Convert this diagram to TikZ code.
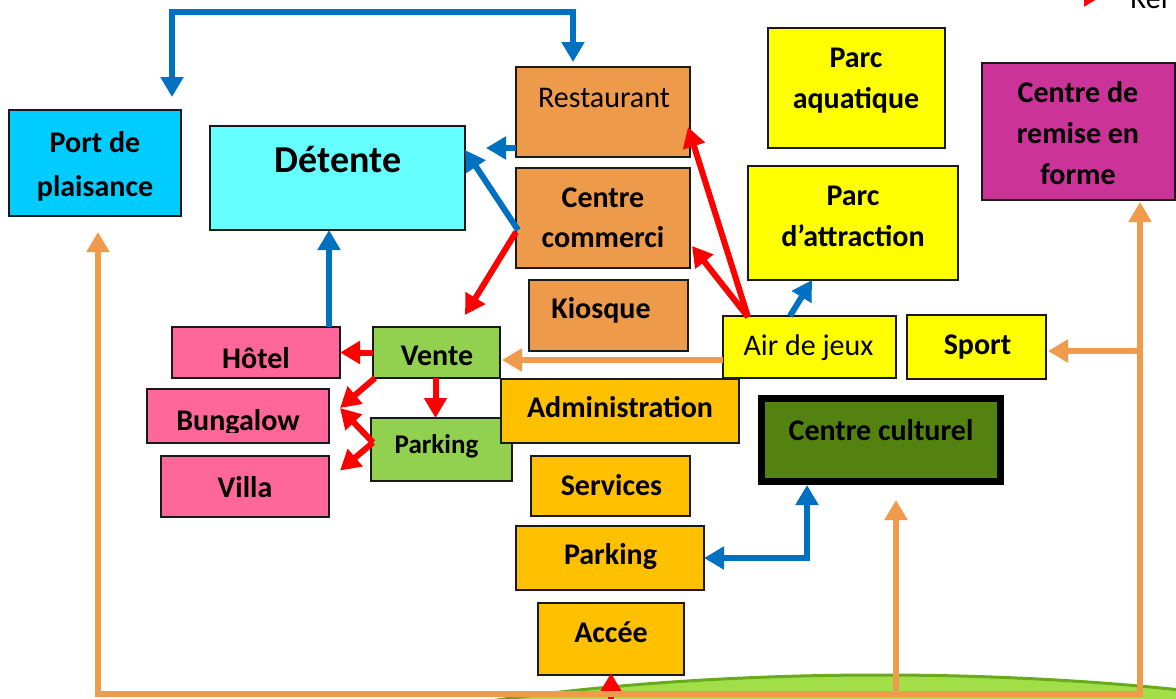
\documentclass[tikz,border=0pt]{standalone}
\usepackage{fontspec}
\setmainfont{Carlito}
\usetikzlibrary{arrows.meta,calc}
\definecolor{cport}{HTML}{00CCFF}
\definecolor{cdet}{HTML}{66FFFF}
\definecolor{corg}{HTML}{EE9A4B}
\definecolor{cyel}{HTML}{FFFF00}
\definecolor{cmag}{HTML}{CC3399}
\definecolor{cpink}{HTML}{FF6699}
\definecolor{clgreen}{HTML}{92D050}
\definecolor{camber}{HTML}{FFC000}
\definecolor{cdgreen}{HTML}{548211}
\definecolor{cblue}{HTML}{0070C0}
\definecolor{cred}{HTML}{FF0000}
\definecolor{carr}{HTML}{F09A4C}
\definecolor{chill}{HTML}{A2DE48}
\definecolor{chillrim}{HTML}{68AA1E}
\begin{document}
\begin{tikzpicture}[x=1pt,y=-1pt,
  box/.style={draw=black!90, line width=1.5pt, inner sep=0pt, outer sep=0pt},
  lbl/.style={anchor=base, inner sep=0pt, font=\fontsize{30}{36}\selectfont\bfseries},
  lblr/.style={anchor=base, inner sep=0pt, font=\fontsize{30}{36}\selectfont},
  >={Triangle[width=22pt,length=20pt]},
  bluearr/.style={draw=cblue, line width=6pt},
  redarr/.style={draw=cred, line width=6pt},
  orarr/.style={draw=carr, line width=6pt}]
\clip (0,0) rectangle (1176,699);
\fill[white] (0,0) rectangle (1176,699);
% hill
\filldraw[fill=chill, draw=chillrim, line width=3pt] (880,880) ellipse [x radius=800, y radius=205];

% boxes
\node[box,fill=cport,minimum width=172,minimum height=106] (port) at (95,163) {};
\node[lbl] (portT1) at (95,152) {Port de};
\node[lbl] (portT2) at (95,196) {plaisance};

\node[box,fill=cdet,minimum width=255,minimum height=104] (detente) at (337.5,178) {};
\node[lbl,font=\fontsize{38}{44}\selectfont\bfseries] (detT) at (338,172) {Détente};

\node[box,fill=corg,minimum width=174,minimum height=90] (rest) at (603,112) {};
\node[lblr] (restT) at (604,107) {Restaurant};

\node[box,fill=corg,minimum width=174,minimum height=100] (cc) at (603,218) {};
\node[lbl] (ccT1) at (603,207) {Centre};
\node[lbl] (ccT2) at (603,247) {commerci};

\node[box,fill=corg,minimum width=159,minimum height=71] (kiosk) at (608.5,315.5) {};
\node[lbl] (kioskT) at (601,318) {Kiosque};

\node[box,fill=cyel,minimum width=177,minimum height=120] (aqua) at (856.5,88) {};
\node[lbl] (aquaT1) at (856,67) {Parc};
\node[lbl] (aquaT2) at (856,108) {aquatique};

\node[box,fill=cmag,minimum width=193,minimum height=137] (forme) at (1078.5,131.5) {};
\node[lbl] (formeT1) at (1078,102) {Centre de};
\node[lbl] (formeT2) at (1078,143) {remise en};
\node[lbl] (formeT3) at (1078,184) {forme};

\node[box,fill=cyel,minimum width=210,minimum height=114] (attr) at (853,223) {};
\node[lbl] (attrT1) at (853,205) {Parc};
\node[lbl] (attrT2) at (853,246) {d’attraction};

\node[box,fill=cyel,minimum width=173,minimum height=62] (air) at (809.5,347) {};
\node[lblr] (airT) at (808.5,355) {Air de jeux};

\node[box,fill=cyel,minimum width=139,minimum height=64] (sport) at (976.5,347) {};
\node[lbl] (sportT) at (977.5,354) {Sport};

\node[box,fill=cpink,minimum width=168,minimum height=51] (hotel) at (256,352.5) {};
\node[lbl] (hotelT) at (256,368) {Hôtel};

\node[box,fill=cpink,minimum width=182,minimum height=54] (bung) at (238,416) {};
\begin{scope}
\clip (147,389) rectangle (329,432);
\node[lbl] (bungT) at (238,430) {Bungalow};
\end{scope}

\node[box,fill=cpink,minimum width=168,minimum height=61] (villa) at (245,486.5) {};
\node[lbl] (villaT) at (245,497) {Villa};

\node[box,fill=clgreen,minimum width=141,minimum height=63] (parkg) at (441.5,449.5) {};
\node[lbl,font=\fontsize{27}{32}\selectfont\bfseries] (parkgT) at (436.5,453) {Parking};

\node[box,fill=clgreen,minimum width=127,minimum height=51] (vente) at (436.5,352.5) {};
\node[lbl] (venteT) at (437,365) {Vente};

\node[box,fill=camber,minimum width=238,minimum height=64] (admin) at (620,411) {};
\node[lbl] (adminT) at (620,417) {Administration};

\node[box,fill=camber,minimum width=159,minimum height=60] (serv) at (610.5,486) {};
\node[lbl] (servT) at (611.5,495) {Services};

\node[box,fill=camber,minimum width=188,minimum height=64] (parko) at (610,558) {};
\node[lbl] (parkoT) at (610.5,564) {Parking};

\node[box,fill=camber,minimum width=146,minimum height=72] (acc) at (611,639) {};
\node[lbl] (accT) at (611,642) {Accée};

\node[draw=black,line width=7pt,fill=cdgreen,inner sep=0pt,outer sep=3.5pt,minimum width=239,minimum height=83] (cult) at (881,440) {};
\node[lbl] (cultT) at (881,440) {Centre culturel};

% legend (cropped)
\coordinate (lg1) at (1040,-5);
\coordinate (lg2) at (1104,-5);
\draw[redarr,->] (lg1) -- (lg2);
\node[lblr,anchor=base west] (legT) at (1130,8) {Rel};

% blue connectors
\draw[bluearr,<->] ($(port.north east)+(-9,-13)$) -- ++(0,-85) -| ($(rest.north)+(-30,-5)$);
\draw[bluearr,->] ($(rest.south west)+(0,-9)$) -- ($(rest.south west)+(-30,-9)$);
\draw[bluearr,->] ($(cc.west)+(2,12)$) -- ($(detente.north east)+(0,24)$);
\draw[bluearr,->] ($(hotel.north east)+(-11,0)$) coordinate (hb) -- (hb |- detente.south);
\draw[bluearr,->] ($(air.north west)+(67,0)$) -- ($(attr.south west)+(64,0)$);
\draw[bluearr,<->] (parko.east) -| ($(cult.south west)+(49,0)$);

% red connectors
\coordinate (airR) at ($(air.north west)+(25,1)$);
\draw[redarr,->] (airR) -- ($(rest.east)+(-2,15)$);
\draw[redarr,->] (airR) -- ($(cc.east)+(2,28)$);
\draw[redarr,->] ($(cc.west)+(0,14)$) -- ($(vente.north west)+(92,-12)$);
\draw[redarr,->] (vente.west) -- (hotel.east);
\draw[redarr,->] ($(vente.south west)+(2,0)$) -- ($(bung.east)+(11,-8)$);
\draw[redarr,->] ($(vente.south)+(-1,0)$) coordinate (vs) -- (vs |- parkg.north);
\coordinate (pgw) at ($(parkg.west)+(2,-7)$);
\draw[redarr,->] (pgw) -- ($(bung.east)+(11,-8)$);
\draw[redarr,->] (pgw) -- ($(villa.east)+(11,-16)$);
\draw[redarr,->] ($(acc.south)+(0,30)$) -- ($(acc.south)+(0,-2)$);

% orange connectors
\draw[orarr,->] ($(air.west)+(0,13)$) coordinate (aw) -- ($(aw -| vente.east)+(2,0)$);
\coordinate (bl) at ($(port.south)+(3,478)$);
\coordinate (br) at ($(forme.south)+(61.5,494)$);
\draw[orarr,<->] ($(port.south)+(3,16)$) -- (bl) -- (br) -- ($(forme.south)+(61.5,2)$);
\draw[orarr,->] ($(cult.south)+(15,209)$) -- ($(cult.south)+(15,15)$);
\coordinate (sj) at ($(forme.south)+(61.5,151)$);
\draw[orarr,->] (sj) -- ($(sj -| sport.east)+(2,0)$);
\end{tikzpicture}
\end{document}
